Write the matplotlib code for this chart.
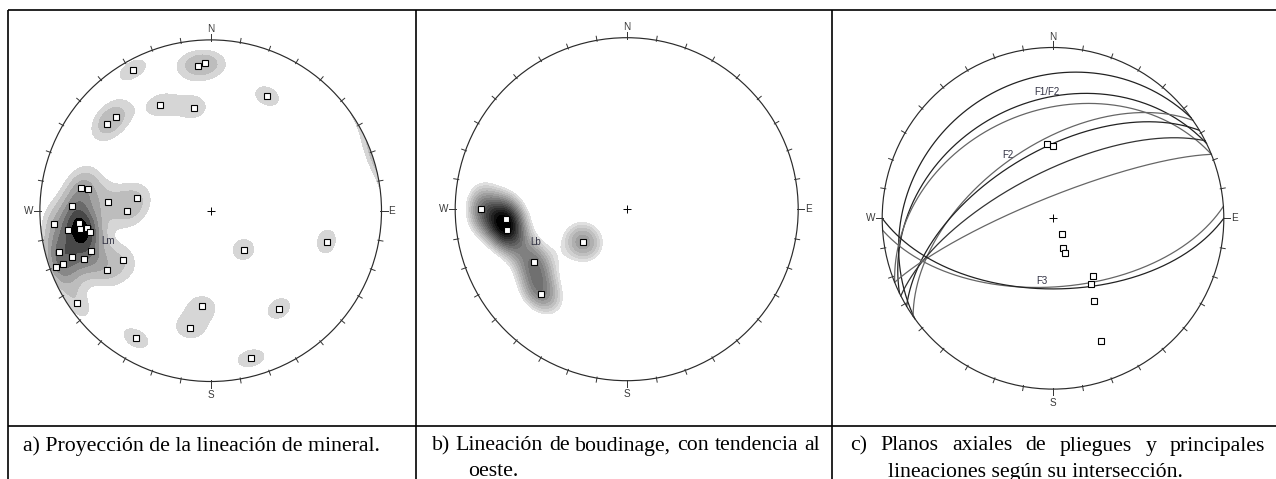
import numpy as np
import matplotlib
matplotlib.use("Agg")
import matplotlib.pyplot as plt

W, H = 1276, 479

# Mineral lineation (trend, plunge) in degrees
min_trend = [331.0, 354.9, 357.8, 26.2, 334.5, 350.7, 314.7, 309.8, 279.9, 280.0,
             279.8, 275.0, 271.9, 270.0, 265.0, 264.8, 262.2, 262.2, 262.0, 260.2,
             104.9, 139.8, 254.9, 251.2, 251.4, 249.0, 240.4, 250.1, 250.1, 240.2,
             235.2, 184.9, 145.1, 190.2, 210.4, 164.8]
min_plunge = [6.3, 15.9, 14.8, 26.1, 31.9, 38.7, 22.7, 21.7, 23.9, 28.1,
              54.1, 39.6, 19.7, 49.2, 9.0, 23.8, 17.0, 23.8, 27.9, 29.2,
              30.5, 65.7, 8.9, 26.8, 15.3, 21.4, 40.7, 8.7, 3.8, 30.4,
              5.6, 43.1, 30.8, 30.6, 14.4, 11.4]

# Boudinage lineation
boud_trend = [270.1, 265.4, 260.2, 233.2, 240.1, 225.2]
boud_plunge = [16.4, 29.9, 29.9, 64.0, 37.9, 30.3]

# Fold axial planes, strike (right-hand rule) and dip
plane_strike = [234, 244, 248, 235, 239, 243, 248, 86, 90]
plane_dip = [20, 32, 37, 55, 58, 68, 80, 57, 56]
plane_color = ["#222222", "#222222", "#666666", "#666666", "#222222",
               "#333333", "#666666", "#666666", "#222222"]

# Intersection lineations
int_trend = [355.4, 359.7, 150.5, 160.8, 161.1, 145.2, 149.8, 153.4, 158.4]
int_plunge = [53.9, 55.4, 81.6, 75.0, 72.3, 55.9, 53.4, 44.9, 24.0]


def project(trend, plunge):
    # lower hemisphere equal-area (Schmidt), primitive radius = 1
    t = np.radians(trend)
    p = np.radians(plunge)
    r = np.sqrt(2) * np.sin((np.pi / 2 - p) / 2)
    return r * np.sin(t), r * np.cos(t)


def line_vec(trend, plunge):
    t = np.radians(np.asarray(trend, float))
    p = np.radians(np.asarray(plunge, float))
    return np.stack([np.cos(p) * np.sin(t), np.cos(p) * np.cos(t), np.sin(p)], axis=-1)


def great_circle(strike, dip, n=400):
    s, d = np.radians(strike), np.radians(dip)
    rake = np.linspace(0, np.pi, n)
    sv = np.array([np.sin(s), np.cos(s), 0.0])
    dv = np.array([np.cos(d) * np.sin(s + np.pi / 2),
                   np.cos(d) * np.cos(s + np.pi / 2), np.sin(d)])
    v = np.outer(np.cos(rake), sv) + np.outer(np.sin(rake), dv)
    pl = np.degrees(np.arcsin(np.clip(v[:, 2], -1, 1)))
    tr = np.degrees(np.arctan2(v[:, 0], v[:, 1]))
    return project(tr, pl)


def density(trend, plunge, k, n=361):
    # axial exponential kernel on the sphere, evaluated on the projection plane
    g = np.linspace(-1.02, 1.02, n)
    X, Y = np.meshgrid(g, g)
    r = np.clip(np.hypot(X, Y), 0, 1)
    p = np.pi / 2 - 2 * np.arcsin(r / np.sqrt(2))
    t = np.arctan2(X, Y)
    gv = np.stack([np.cos(p) * np.sin(t), np.cos(p) * np.cos(t), np.sin(p)], axis=-1)
    c = np.abs(gv @ line_vec(trend, plunge).T)
    return X, Y, np.exp(k * (c - 1)).sum(axis=-1)


fig = plt.figure(figsize=(W / 100, H / 100), dpi=100)
frame = fig.add_axes([0, 0, 1, 1])
frame.set_xlim(0, W)
frame.set_ylim(H, 0)
frame.axis("off")


def net_axes(cx, cy, R):
    s = 1.3
    ax = fig.add_axes([(cx - s * R) / W, 1 - (cy + s * R) / H, 2 * s * R / W, 2 * s * R / H])
    ax.set_xlim(-s, s)
    ax.set_ylim(-s, s)
    ax.axis("off")
    return ax


def draw_net(ax):
    ax.add_patch(plt.Circle((0, 0), 1, fill=False, lw=0.85, color="#2a2a2a", zorder=4))
    for az in range(0, 360, 10):
        a = np.radians(az)
        L = 0.036 if az % 90 == 0 else 0.024
        ax.plot([np.sin(a) * 0.994, np.sin(a) * (1 + L)], [np.cos(a) * 0.994, np.cos(a) * (1 + L)],
                color="#333333", lw=0.7, zorder=4)
    lab = dict(fontsize=7.2, color="#3a3a3a", family="Liberation Sans")
    ax.text(0, 1.045, "N", ha="center", va="baseline", **lab)
    ax.text(0, -1.05, "S", ha="center", va="top", **lab)
    ax.text(-1.04, 0, "W", ha="right", va="center", **lab)
    ax.text(1.04, 0, "E", ha="left", va="center", **lab)
    ax.plot(0, 0, "+", color="black", ms=6, mew=0.7, zorder=5)


def contour(ax, X, Y, D, levels, greys):
    cs = ax.contourf(X, Y, D, levels=levels, colors=greys, extend="max", zorder=1)
    cs.set_clip_path(plt.Circle((0, 0), 1, transform=ax.transData))


def squares(ax, trend, plunge, ms=3.8):
    x, y = project(np.array(trend), np.array(plunge))
    ax.plot(x, y, "s", ms=ms, mfc="white", mec="black", mew=0.8, ls="none", zorder=6)


small = dict(fontsize=7, color="#333344", ha="center", va="center",
             family="Liberation Sans", zorder=7)

# a) mineral lineation
ax_a = net_axes(210.7, 210.7, 170.8)
draw_net(ax_a)
Xa, Ya, Da = density(min_trend, min_plunge, 80)
lev_a = [0.76] + list(np.linspace(1.3, 0.9 * Da.max(), 6))
grey_a = ["#d6d6d6", "#bdbdbd", "#a3a3a3", "#888888", "#6a6a6a", "#484848", "#000000"]
contour(ax_a, Xa, Ya, Da, lev_a, grey_a)
squares(ax_a, min_trend, min_plunge)
ax_a.text(-0.60, -0.18, "Lm", **small)

# b) boudinage lineation
ax_b = net_axes(626.7, 209.2, 171.5)
draw_net(ax_b)
Xb, Yb, Db = density(boud_trend, boud_plunge, 55)
lev_b = list(np.linspace(0.5, 0.93 * Db.max(), 15))
grey_b = [str(v) for v in np.linspace(0.88, 0.0, len(lev_b))]
contour(ax_b, Xb, Yb, Db, lev_b, grey_b)
squares(ax_b, boud_trend, boud_plunge)
ax_b.text(-0.53, -0.19, "Lb", **small)

# c) axial planes and intersection lineations
ax_c = net_axes(1053.0, 218.3, 170.8)
draw_net(ax_c)
for s, d, col in zip(plane_strike, plane_dip, plane_color):
    x, y = great_circle(s, d)
    ax_c.plot(x, y, color=col, lw=0.9, zorder=3)
squares(ax_c, int_trend, int_plunge, ms=3.9)
for txt, x, y in [("F1/F2", -0.033, 0.738), ("F2", -0.262, 0.371), ("F3", -0.066, -0.367)]:
    ax_c.text(x, y, txt, **small)

# table rules
rule = dict(color="black", lw=1.2, solid_capstyle="butt")
frame.plot([8, W], [10, 10], **rule)
frame.plot([8, W], [425.5, 425.5], **rule)
for x in [8, 416, 832]:
    frame.plot([x, x], [10, H], **rule)

cap = dict(fontsize=15.7, family="Liberation Serif", color="black", va="baseline")
renderer = fig.canvas.get_renderer()


def justify(words, x0, x1, y):
    texts = [frame.text(0, y, w, **cap) for w in words]
    widths = [t.get_window_extent(renderer).width for t in texts]
    gap = (x1 - x0 - sum(widths)) / (len(words) - 1)
    x = x0
    for t, w in zip(texts, widths):
        t.set_x(x)
        x += w + gap


frame.text(23, 450.5, "a) Proyección de la lineación de mineral.", **cap)
justify("b) Lineación de boudinage, con tendencia al".split(), 431.5, 820, 450.5)
frame.text(468, 476.5, "oeste.", **cap)
justify("c) Planos axiales de pliegues y principales".split(), 850, 1265, 450.5)
frame.text(888, 476.5, "lineaciones según su intersección.", **cap)

fig.savefig("out.png", dpi=100)
